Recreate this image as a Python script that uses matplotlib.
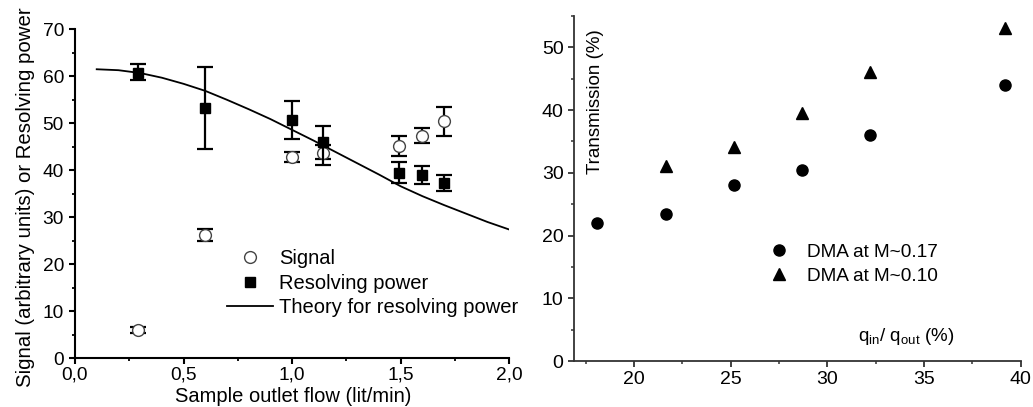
import matplotlib
matplotlib.use("Agg")
import matplotlib.pyplot as plt
from matplotlib.lines import Line2D
from matplotlib.ticker import MultipleLocator, FuncFormatter

plt.rcParams['font.family'] = ['Liberation Sans', 'DejaVu Sans']

# ---- Left panel data ----
flow = [0.29, 0.60, 1.00, 1.14, 1.49, 1.60, 1.70]
signal = [6.0, 26.2, 42.9, 43.7, 45.2, 47.3, 50.4]
signal_lo = [5.3, 24.9, 41.8, 42.4, 43.0, 45.8, 47.4]
signal_hi = [6.7, 27.6, 44.0, 45.3, 47.4, 48.9, 53.4]
respow = [60.8, 53.3, 50.7, 46.1, 39.5, 39.0, 37.3]
respow_lo = [59.2, 44.5, 46.6, 41.2, 37.3, 37.0, 35.6]
respow_hi = [62.6, 62.0, 54.8, 49.5, 41.7, 41.0, 39.0]
theory_x = [0.1, 0.2, 0.3, 0.4, 0.5, 0.6, 0.7, 0.8, 0.9, 1.0,
            1.1, 1.2, 1.3, 1.4, 1.5, 1.6, 1.7, 1.8, 1.9, 2.0]
theory_y = [61.5, 61.3, 60.7, 59.7, 58.4, 56.9, 55.0, 53.0, 50.9, 48.6,
            46.3, 43.9, 41.5, 39.1, 36.6, 34.5, 32.6, 30.8, 29.0, 27.4]

# ---- Right panel data ----
ratio = [18.1, 21.65, 25.2, 28.7, 32.2, 39.2]
trans_017 = [22.0, 23.5, 28.0, 30.4, 36.0, 44.0]
trans_010 = [31.1, 34.1, 39.5, 46.1, 53.1]
ratio_010 = [21.65, 25.2, 28.7, 32.2, 39.2]

fig = plt.figure(figsize=(10.33, 4.07), dpi=100)
ax1 = fig.add_axes([0.0726, 0.1196, 0.4204, 0.8084])
ax2 = fig.add_axes([0.5557, 0.113, 0.4323, 0.848])

# Left panel
ax1.plot(theory_x, theory_y, color='black', lw=1.3, zorder=2)
s_err = [[s - l for s, l in zip(signal, signal_lo)], [h - s for s, h in zip(signal, signal_hi)]]
r_err = [[s - l for s, l in zip(respow, respow_lo)], [h - s for s, h in zip(respow, respow_hi)]]
ax1.errorbar(flow, signal, yerr=s_err, fmt='none', ecolor='black', elinewidth=1.6,
             capsize=6, capthick=1.6, zorder=3)
ax1.plot(flow, signal, 'o', ms=8.5, mfc='white', mec='#444444', mew=1.0, ls='none', zorder=4)
ax1.errorbar(flow, respow, yerr=r_err, fmt='none', ecolor='black', elinewidth=1.6,
             capsize=6, capthick=1.6, zorder=5)
ax1.plot(flow, respow, 's', ms=7.5, color='black', ls='none', zorder=6)

ax1.set_xlim(0, 2.0)
ax1.set_ylim(0, 70)
ax1.xaxis.set_major_locator(MultipleLocator(0.5))
ax1.xaxis.set_minor_locator(MultipleLocator(0.25))
ax1.yaxis.set_major_locator(MultipleLocator(10))
ax1.yaxis.set_minor_locator(MultipleLocator(5))
ax1.xaxis.set_major_formatter(FuncFormatter(lambda v, p: f"{v:.1f}".replace('.', ',')))
for s in ['top', 'right']:
    ax1.spines[s].set_visible(False)
for s in ['left', 'bottom']:
    ax1.spines[s].set_linewidth(1.5)
ax1.tick_params(which='major', length=4.5, width=1.5, labelsize=13.8, pad=1.5)
ax1.tick_params(which='minor', length=2.5, width=1.3)
ax1.tick_params(axis='y', which='major', pad=3.5)
ax1.set_xlabel('Sample outlet flow (lit/min)', fontsize=14.5)
ax1.set_ylabel('Signal (arbitrary units) or Resolving power', fontsize=14.7)
ax1.xaxis.set_label_coords(0.502, -0.086)
ax1.yaxis.set_label_coords(-0.093, 0.49)

h_sig = Line2D([], [], marker='o', ls='none', mfc='white', mec='#444444', ms=8.5)
h_res = Line2D([], [], marker='s', ls='none', color='black', ms=7.5)
h_th = Line2D([], [], color='black', lw=1.3)
ax1.legend([h_sig, h_res, h_th], ['Signal', 'Resolving power', 'Theory for resolving power'],
           loc='upper left', bbox_to_anchor=(0.35, 0.331), frameon=False, fontsize=14.5,
           handlelength=2.29, handletextpad=0.3, labelspacing=0.26, borderpad=0,
           borderaxespad=0)

# Right panel
ax2.plot(ratio, trans_017, 'o', ms=8, color='black', ls='none', label='DMA at M~0.17')
ax2.plot(ratio_010, trans_010, '^', ms=9, color='black', ls='none', label='DMA at M~0.10')
ax2.set_xlim(16.9, 40)
ax2.set_ylim(0, 55)
ax2.xaxis.set_major_locator(MultipleLocator(5))
ax2.xaxis.set_minor_locator(MultipleLocator(2.5))
ax2.yaxis.set_major_locator(MultipleLocator(10))
ax2.yaxis.set_minor_locator(MultipleLocator(5))
for s in ['top', 'right']:
    ax2.spines[s].set_visible(False)
for s in ['left', 'bottom']:
    ax2.spines[s].set_linewidth(1.3)
    ax2.spines[s].set_color('#333333')
ax2.tick_params(which='major', length=4.5, width=1.3, color='#333333', labelsize=14, pad=3.0)
ax2.tick_params(which='minor', length=2.5, width=1.1, color='#333333')
ax2.text(0.047, 0.962, 'Transmission (%)', rotation=90, transform=ax2.transAxes,
         ha='center', va='top', fontsize=13.5)
ax2.text(0.636, 0.07, r'q$_{\mathregular{in}}$/ q$_{\mathregular{out}}$ (%)',
         transform=ax2.transAxes, ha='left', va='center', fontsize=13.5)
ax2.legend(loc='upper left', bbox_to_anchor=(0.425, 0.34), frameon=False, fontsize=13.7,
           handlelength=1.6, handletextpad=0.67, labelspacing=0.36, borderpad=0,
           borderaxespad=0)

fig.savefig('out.png', dpi=100)
